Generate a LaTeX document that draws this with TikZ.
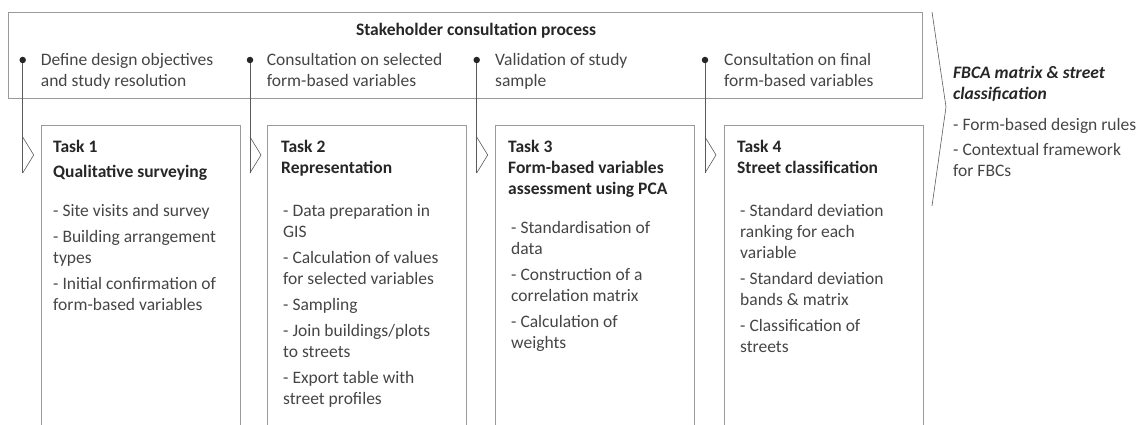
\documentclass[tikz,border=0pt]{standalone}
\usepackage{fontspec}
\setmainfont{Carlito}
\usepackage{tikz}

\definecolor{boxgray}{HTML}{9A9A9A}
\definecolor{linegray}{HTML}{5A5A5A}
\definecolor{txtgray}{HTML}{454545}
\definecolor{headgray}{HTML}{262626}

% multi-line texts sit on the baseline of their last line
\tikzset{
  txt/.style={anchor=base west, inner sep=0pt, align=left, text=txtgray,
    font=\fontsize{17.5}{21}\selectfont},
  head/.style={txt, text=headgray, font=\fontsize{17.5}{21}\selectfont\bfseries},
  frame/.style={draw=boxgray, line width=0.9pt, inner sep=0pt, anchor=north west},
  dot/.style={circle, fill=headgray, inner sep=0pt, minimum size=6.5pt},
  chev/.style={draw=linegray, line width=0.6pt},
}

\begin{document}
\begin{tikzpicture}[x=1pt,y=-1pt]
\useasboundingbox (0,0) rectangle (1145,425);
% consultation frame on top
\node[frame, minimum width=913.5pt, minimum height=86pt] (consult) at (8.3,11.7) {};
\node[head, anchor=base] (ctitle) at (476,36) {Stakeholder consultation process};

% task boxes, consultation dots and the connectors down to each task
\foreach \i/\x/\d in {1/40.7/22.7, 2/266.7/250, 3/495/476.7, 4/724/705} {
  \node[frame, minimum width=199pt, minimum height=330pt] (task\i) at (\x,125) {};
  \node[dot] (dot\i) at (\d,60) {};
  \coordinate (end\i) at (\d,173);
  \draw[chev] (dot\i) -- (end\i);
  \draw[chev] (\d,137) -- ++(11,18) -- (end\i);
}

% consultation steps
\node[txt] (step1) at (40.7,87) {Define design objectives\\and study resolution};
\node[txt] (step2) at (266.7,87) {Consultation on selected\\form-based variables};
\node[txt] (step3) at (495,87) {Validation of study\\sample};
\node[txt] (step4) at (724,87) {Consultation on final\\form-based variables};

% task titles
\node[head] (head1) at (53,177) {Task 1\\[4pt]Qualitative surveying};
\node[head] (head2) at (281,173) {Task 2\\Representation};
\node[head] (head3) at (508,194) {Task 3\\Form-based variables\\assessment using PCA};
\node[head] (head4) at (737,173) {Task 4\\Street classification};

% task contents
\node[txt] (list1) at (53,310) {- Site visits and survey\\[5pt]- Building arrangement\\types\\[5pt]%
  - Initial confirmation of\\form-based variables};
\node[txt] (list2) at (283,404) {- Data preparation in\\GIS\\[5pt]- Calculation of values\\for selected variables\\[5pt]%
  - Sampling\\[5pt]- Join buildings/plots\\to streets\\[5pt]- Export table with\\street profiles};
\node[txt] (list3) at (511,348) {- Standardisation of\\data\\[5pt]- Construction of a\\correlation matrix\\[5pt]%
  - Calculation of\\weights};
\node[txt] (list4) at (740,352) {- Standard deviation\\ranking for each\\variable\\[5pt]%
  - Standard deviation\\bands \& matrix\\[5pt]- Classification of\\streets};

% outcome
\coordinate (otop) at (932,12);
\coordinate (otip) at (946,107);
\coordinate (obot) at (932,206);
\draw[chev] (otop) -- (otip) -- (obot);
\node[head, font=\fontsize{17.5}{21}\selectfont\bfseries\itshape] (result) at (953,100)
  {FBCA matrix \& street\\classification};
\node[txt] (rules) at (953,176) {- Form-based design rules\\[4pt]- Contextual framework\\for FBCs};
\end{tikzpicture}
\end{document}
